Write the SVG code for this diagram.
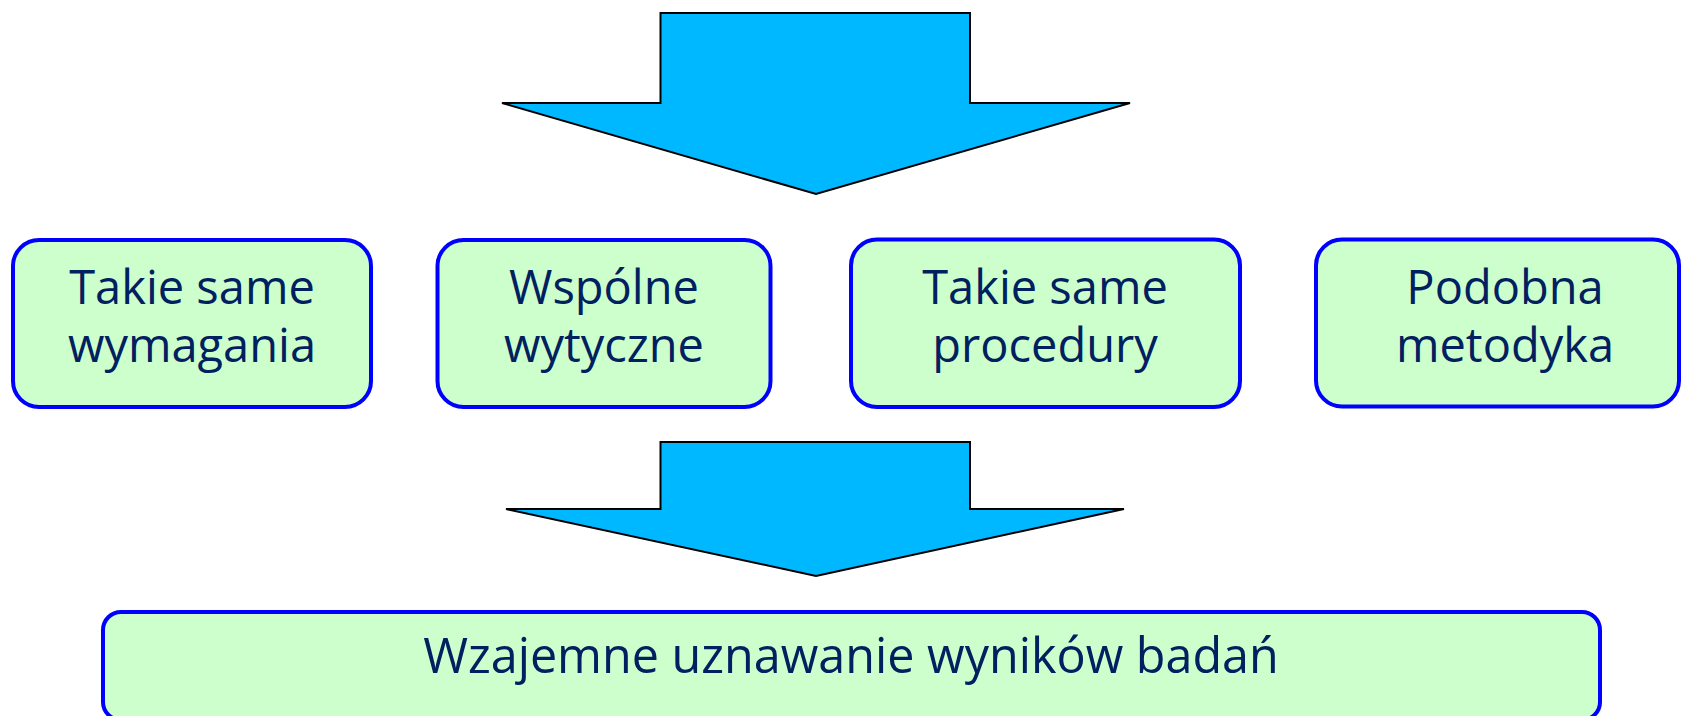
<svg xmlns="http://www.w3.org/2000/svg" width="1681" height="716" viewBox="0 0 1681 716">
<style>
.arrow{fill:#00B8FF;stroke:#000;stroke-width:2;stroke-linejoin:miter}
.box{fill:#CCFFCC;stroke:#0000FF;stroke-width:4}
.lbl{font-family:"Open Sans","Noto Sans","Liberation Sans",sans-serif;font-size:47px;fill:#002060;text-anchor:middle}
.big{font-size:48.5px}
</style>
<rect width="1681" height="716" fill="#fff"/>
<g id="connectors">
<polygon class="arrow" points="660.5,13 970,13 970,103 1130,103 816,194 502,103 660.5,103"/>
<polygon class="arrow" points="660.5,442 970,442 970,509 1124,509 816,576 506,509 660.5,509"/>
</g>
<g id="node1">
<rect class="box" x="13" y="240" width="358" height="167" rx="26"/>
<text class="lbl" x="192" y="304">Takie same</text>
<text class="lbl" x="192" y="362">wymagania</text>
</g>
<g id="node2">
<rect class="box" x="437.5" y="240" width="333" height="167" rx="26"/>
<text class="lbl" x="604" y="304">Wspólne</text>
<text class="lbl" x="604" y="362">wytyczne</text>
</g>
<g id="node3">
<rect class="box" x="851" y="239.5" width="389" height="167.5" rx="26"/>
<text class="lbl" x="1045" y="304">Takie same</text>
<text class="lbl" x="1045" y="362">procedury</text>
</g>
<g id="node4">
<rect class="box" x="1316" y="239.5" width="363" height="167" rx="26"/>
<text class="lbl" x="1505" y="304">Podobna</text>
<text class="lbl" x="1505" y="362">metodyka</text>
</g>
<g id="node5">
<rect class="box" x="103" y="612" width="1497" height="108" rx="18"/>
<text class="lbl big" x="851" y="673">Wzajemne uznawanie wyników badań</text>
</g>
</svg>
